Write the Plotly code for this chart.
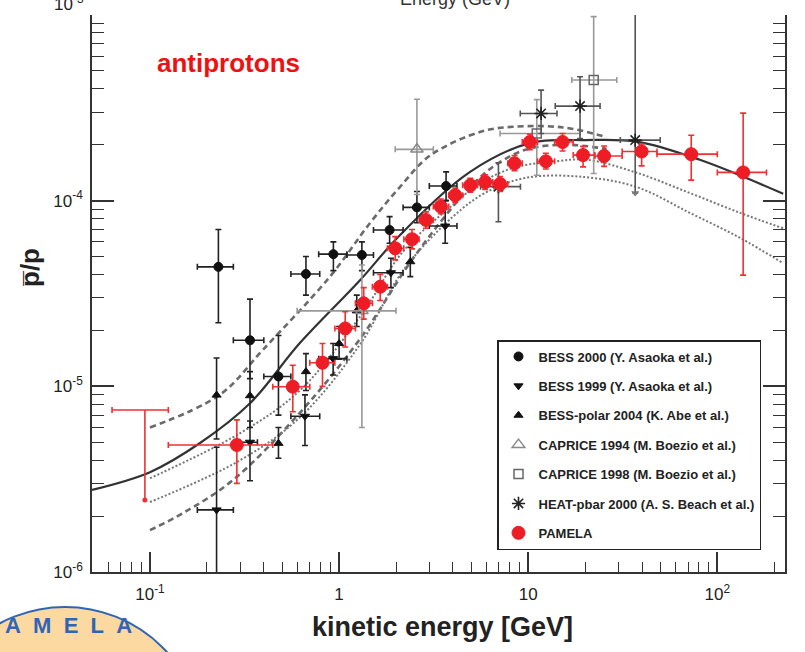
import plotly.graph_objects as go

# ---------------- data ----------------
# model curves (kinetic energy GeV, pbar/p)
solid_E = [0.0494, 0.1, 0.184, 0.338, 0.62, 1.29, 2.09, 4.93, 10.2, 20, 37.5, 80.8, 223]
solid_y = [2.77e-6, 3.45e-6, 4.95e-6, 8.1e-6, 1.71e-5, 3.73e-5, 6.5e-5, 1.43e-4, 2.04e-4, 2.12e-4, 2.08e-4, 1.66e-4, 1.09e-4]

dash_hi_E = [0.1, 0.234, 0.395, 0.895, 1.46, 2.09, 3.03, 5.6, 8.3, 15.3, 26]
dash_hi_y = [6.0e-6, 9.0e-6, 1.57e-5, 3.9e-5, 7.6e-5, 1.18e-4, 1.75e-4, 2.35e-4, 2.5e-4, 2.48e-4, 2.2e-4]

dash_lo_E = [0.1, 0.15, 0.275, 0.62, 1.29, 2.5, 5.0, 7.0, 10, 16, 26]
dash_lo_y = [1.68e-6, 2.08e-6, 3.13e-6, 7.2e-6, 1.8e-5, 5.0e-5, 1.2e-4, 1.6e-4, 1.9e-4, 2.0e-4, 1.9e-4]

dot_hi_E = [0.1, 0.3, 0.62, 1.3, 2.2, 4.0, 5.57, 8.3, 14, 20.5, 37.8, 71.5, 132, 223]
dot_hi_y = [3.2e-6, 5.6e-6, 9.5e-6, 2.4e-5, 5.4e-5, 9.5e-5, 1.24e-4, 1.5e-4, 1.63e-4, 1.66e-4, 1.41e-4, 1.1e-4, 8.6e-5, 7.1e-5]

dot_lo_E = [0.1, 0.3, 0.62, 1.3, 2.18, 4.0, 6.0, 9.8, 20, 37.8, 71.5, 132, 223]
dot_lo_y = [2.38e-6, 4.0e-6, 6.8e-6, 1.7e-5, 4.2e-5, 8.2e-5, 1.11e-4, 1.33e-4, 1.34e-4, 1.18e-4, 8.6e-5, 6.3e-5, 4.6e-5]

# BESS 2000
b00_E = [0.23, 0.338, 0.478, 0.668, 0.933, 1.32, 1.85, 2.58, 3.68]
b00_y = [4.4e-5, 1.77e-5, 1.13e-5, 4.03e-5, 5.15e-5, 5.1e-5, 6.95e-5, 9.2e-5, 1.2e-4]
b00_ylo = [2.2e-5, 1.1e-5, 7.0e-6, 3.1e-5, 4.2e-5, 4.2e-5, 5.9e-5, 7.6e-5, 1.0e-4]
b00_yhi = [7.0e-5, 2.95e-5, 1.88e-5, 5.0e-5, 6.0e-5, 6.0e-5, 8.2e-5, 1.12e-4, 1.43e-4]
b00_xlo = [0.178, 0.276, 0.40, 0.556, 0.78, 1.1, 1.52, 2.18, 3.0]
b00_xhi = [0.276, 0.40, 0.556, 0.79, 1.1, 1.52, 2.18, 3.0, 4.2]

# BESS 1999
b99_E = [0.225, 0.338, 0.66, 0.93, 1.88, 3.64]
b99_y = [2.16e-6, 5.0e-6, 6.9e-6, 1.41e-5, 4.09e-5, 7.3e-5]
b99_ylo = [5e-7, 3.1e-6, 4.8e-6, 1.15e-5, 3.4e-5, 5.9e-5]
b99_yhi = [4.7e-6, 6.5e-6, 9.0e-6, 1.7e-5, 4.9e-5, 1.0e-4]
b99_xlo = [0.178, 0.30, 0.556, 0.78, 1.52, 3.0]
b99_xhi = [0.276, 0.37, 0.79, 1.1, 2.18, 4.2]

# BESS-polar 2004
bp_E = [0.225, 0.338, 0.478, 0.668, 1.0, 1.24, 2.38]
bp_y = [8.97e-6, 8.9e-6, 4.93e-6, 1.2e-5, 1.7e-5, 2.55e-5, 4.69e-5]
bp_ylo = [5.2e-6, 6.0e-6, 4.1e-6, 9.5e-6, 1.4e-5, 2.1e-5, 3.9e-5]
bp_yhi = [1.42e-5, 1.2e-5, 6.0e-6, 1.5e-5, 2.1e-5, 3.1e-5, 5.6e-5]

# CAPRICE 1994
c94_E = [1.32, 2.58]
c94_y = [2.55e-5, 1.89e-4]
c94_ylo = [6.0e-6, 1.08e-4]
c94_yhi = [4.5e-5, 3.52e-4]
c94_xlo = [0.6, 1.98]
c94_xhi = [2.0, 3.15]

# CAPRICE 1998
c98_E = [11.1, 22.2]
c98_y = [2.3e-4, 4.47e-4]
c98_ylo = [1.37e-4, 1.4e-4]
c98_yhi = [3.5e-4, 9.8e-4]
c98_xlo = [7.1, 17.0]
c98_xhi = [18.8, 29.4]

# HEAT-pbar 2000
heat_E = [6.96, 11.7, 18.8, 36.8]
heat_y = [1.19e-4, 2.95e-4, 3.23e-4, 2.12e-4]
heat_ylo = [7.7e-5, 2.3e-4, 2.16e-4, 1.1e-4]
heat_yhi = [1.6e-4, 3.94e-4, 4.65e-4, 2.0e-3]
heat_xlo = [5.6, 9.08, 13.9, 30.7]
heat_xhi = [9.1, 14.2, 24.0, 49.9]

# PAMELA
pam_E = [0.288, 0.569, 0.817, 1.077, 1.35, 1.65, 1.98, 2.43, 2.88, 3.45, 4.11, 4.94,
         5.92, 7.1, 8.47, 10.2, 12.4, 15.2, 19.5, 25.2, 39.8, 72.8, 137]
pam_y = [4.83e-6, 9.95e-6, 1.34e-5, 2.05e-5, 2.8e-5, 3.44e-5, 5.54e-5, 6.2e-5, 7.87e-5,
         9.3e-5, 1.07e-4, 1.21e-4, 1.26e-4, 1.23e-4, 1.59e-4, 2.07e-4, 1.63e-4, 2.07e-4,
         1.76e-4, 1.74e-4, 1.84e-4, 1.78e-4, 1.42e-4]
pam_ylo = [3.0e-6, 7.3e-6, 1.0e-5, 1.63e-5, 2.3e-5, 2.9e-5, 4.8e-5, 5.5e-5, 7.1e-5, 8.5e-5,
           9.8e-5, 1.11e-4, 1.15e-4, 1.12e-4, 1.45e-4, 1.88e-4, 1.48e-4, 1.85e-4, 1.52e-4,
           1.53e-4, 1.54e-4, 1.29e-4, 3.97e-5]
pam_yhi = [6.6e-6, 1.30e-5, 1.7e-5, 2.52e-5, 3.4e-5, 4.0e-5, 6.4e-5, 7.0e-5, 8.7e-5, 1.02e-4,
           1.17e-4, 1.32e-4, 1.38e-4, 1.35e-4, 1.75e-4, 2.28e-4, 1.8e-4, 2.3e-4, 1.96e-4,
           1.97e-4, 2.02e-4, 2.25e-4, 2.96e-4]
pam_xlo = [0.125, 0.446, 0.70, 0.95, 1.22, 1.5, 1.8, 2.2, 2.65, 3.15, 3.8, 4.5, 5.4, 6.5,
           7.8, 9.3, 11.2, 13.8, 17.3, 22.5, 31.4, 48, 100]
pam_xhi = [0.446, 0.70, 0.95, 1.22, 1.5, 1.8, 2.2, 2.65, 3.15, 3.8, 4.5, 5.4, 6.5, 7.8,
           9.3, 11.2, 13.8, 17.3, 22.5, 31.4, 48, 100, 182]

# PAMELA lowest-energy bin (upper limit style)
pul_E = [0.094]
pul_y = [7.45e-6]
pul_ylo = [2.44e-6]
pul_xlo = [0.063]
pul_xhi = [0.125]

x_tickvals = [0.1, 1, 10, 100]
x_ticktext = ["10<sup>-1</sup>", "1", "10", "10<sup>2</sup>"]
y_tickvals = [1e-6, 1e-5, 1e-4, 1e-3]
y_ticktext = ["10<sup>-6</sup>", "10<sup>-5</sup>", "10<sup>-4</sup>", ""]
y_top_label = "10<sup>-3</sup>"

legend_names = ["BESS 2000 (Y. Asaoka et al.)", "BESS 1999 (Y. Asaoka et al.)",
                "BESS-polar 2004 (K. Abe et al.)", "CAPRICE 1994 (M. Boezio et al.)",
                "CAPRICE 1998 (M. Boezio et al.)", "HEAT-pbar 2000 (A. S. Beach et al.)",
                "PAMELA"]

# ---------------- figure ----------------
W, H = 805, 652
ML, MR, MT, MB = 92, 20, 15, 80


def px2paper(px, py):
    return (px - ML) / (W - ML - MR), (H - MB - py) / (H - MT - MB)


def diffs(v, lo, hi):
    return [h - a for a, h in zip(v, hi)], [a - l for a, l in zip(v, lo)]


fig = go.Figure()

# model curves
fig.add_trace(go.Scatter(x=dash_hi_E, y=dash_hi_y, mode="lines", line_shape="spline",
                         line=dict(color="#6a6a6a", width=2.6, dash="6px,4px"), showlegend=False))
fig.add_trace(go.Scatter(x=dash_lo_E, y=dash_lo_y, mode="lines", line_shape="spline",
                         line=dict(color="#6a6a6a", width=2.6, dash="6px,4px"), showlegend=False))
fig.add_trace(go.Scatter(x=dot_hi_E, y=dot_hi_y, mode="lines", line_shape="spline",
                         line=dict(color="#777777", width=2, dash="2px,2px"), showlegend=False))
fig.add_trace(go.Scatter(x=dot_lo_E, y=dot_lo_y, mode="lines", line_shape="spline",
                         line=dict(color="#777777", width=2, dash="2px,2px"), showlegend=False))
fig.add_trace(go.Scatter(x=solid_E, y=solid_y, mode="lines", line_shape="spline",
                         line=dict(color="#333333", width=2.2), showlegend=False))


def add_data(E, y, ylo, yhi, xlo, xhi, name, symbol, color, size, ecolor, lw=1.0):
    ep, em = diffs(y, ylo, yhi)
    err_x = dict(visible=False)
    if xlo is not None:
        xp, xm = diffs(E, xlo, xhi)
        err_x = dict(type="data", symmetric=False, array=xp, arrayminus=xm,
                     color=ecolor, thickness=1.6, width=3)
    fig.add_trace(go.Scatter(
        x=E, y=y, mode="markers", name=name, legendgroup=name,
        marker=dict(symbol=symbol, color=color, size=size, line=dict(color=color, width=lw)),
        error_y=dict(type="data", symmetric=False, array=ep, arrayminus=em,
                     color=ecolor, thickness=1.6, width=3),
        error_x=err_x))


add_data(b00_E, b00_y, b00_ylo, b00_yhi, b00_xlo, b00_xhi, legend_names[0],
         "circle", "#111111", 9, "#222222")
add_data(b99_E, b99_y, b99_ylo, b99_yhi, b99_xlo, b99_xhi, legend_names[1],
         "triangle-down", "#111111", 8, "#222222")
add_data(bp_E, bp_y, bp_ylo, bp_yhi, None, None, legend_names[2],
         "triangle-up", "#111111", 8, "#222222")
add_data(c94_E, c94_y, c94_ylo, c94_yhi, c94_xlo, c94_xhi, legend_names[3],
         "triangle-up-open", "#888888", 11, "#999999", 1.5)
add_data(c98_E, c98_y, c98_ylo, c98_yhi, c98_xlo, c98_xhi, legend_names[4],
         "square-open", "#666666", 9, "#999999", 1.5)
add_data(heat_E, heat_y, heat_ylo, heat_yhi, heat_xlo, heat_xhi, legend_names[5],
         "asterisk-open", "#222222", 11, "#555555", 1.6)

# HEAT arrow tip at end of error bar
fig.add_trace(go.Scatter(x=[heat_E[3]], y=[heat_ylo[3]], mode="markers", showlegend=False,
                         marker=dict(symbol="triangle-down", size=7, color="#777777")))

# PAMELA upper-limit style bin
pul_xp, pul_xm = diffs(pul_E, pul_xlo, pul_xhi)
fig.add_trace(go.Scatter(
    x=pul_E, y=pul_y, mode="markers", showlegend=False,
    marker=dict(size=1, color="rgba(0,0,0,0)"),
    error_y=dict(type="data", symmetric=False, array=[0],
                 arrayminus=[pul_y[0] - pul_ylo[0]], color="#f03030", thickness=1.6, width=0),
    error_x=dict(type="data", symmetric=False, array=pul_xp, arrayminus=pul_xm,
                 color="#f03030", thickness=1.6, width=3)))
fig.add_trace(go.Scatter(x=pul_E, y=pul_ylo, mode="markers", showlegend=False,
                         marker=dict(symbol="circle", size=5, color="#f03030")))

add_data(pam_E, pam_y, pam_ylo, pam_yhi, pam_xlo, pam_xhi, legend_names[6],
         "circle", "#ee1c24", 13, "#f03030")

fig.update_xaxes(
    type="log", range=[-1.3066, 2.358], showgrid=False, zeroline=False,
    showline=True, linecolor="#333333", linewidth=1.5, mirror=False,
    ticks="inside", ticklen=20, tickwidth=1.5, tickcolor="#333333",
    tickvals=x_tickvals, ticktext=x_ticktext, ticklabelstandoff=6,
    tickfont=dict(family="Arial, Liberation Sans", size=17, color="#222222"),
    minor=dict(ticks="inside", ticklen=10, tickwidth=1.3, tickcolor="#333333",
               tickvals=[0.06, 0.07, 0.08, 0.09, 0.2, 0.3, 0.4, 0.5, 0.6, 0.7, 0.8, 0.9,
                         2, 3, 4, 5, 6, 7, 8, 9, 20, 30, 40, 50, 60, 70, 80, 90, 200]))
fig.update_yaxes(
    type="log", range=[-6, -3], showgrid=False, zeroline=False,
    showline=True, linecolor="#333333", linewidth=1.5, mirror="ticks",
    ticks="inside", ticklen=22, tickwidth=1.5, tickcolor="#333333",
    tickvals=y_tickvals, ticktext=y_ticktext, ticklabelstandoff=4,
    tickfont=dict(family="Arial, Liberation Sans", size=17, color="#222222"),
    minor=dict(ticks="inside", ticklen=12, tickwidth=1.3, tickcolor="#333333",
               tickvals=[m * 10.0 ** e for e in (-6, -5, -4) for m in range(2, 10)]))

lx, ly = px2paper(497, 340)
fig.update_layout(
    width=W, height=H, margin=dict(l=ML, r=MR, t=MT, b=MB),
    paper_bgcolor="white", plot_bgcolor="white",
    font=dict(family="Arial, Liberation Sans"),
    legend=dict(x=lx, y=ly, xanchor="left", yanchor="top", bgcolor="white",
                bordercolor="#222222", borderwidth=1.5, tracegroupgap=9.5,
                font=dict(family="Arial, Liberation Sans", size=13, color="#222222", weight="bold")),
)

# logo circle (bottom-left, partially outside)
cx0, cy0 = px2paper(65 - 138, 745 + 138)
cx1, cy1 = px2paper(65 + 138, 745 - 138)
fig.add_shape(type="circle", xref="paper", yref="paper", x0=cx0, y0=cy0, x1=cx1, y1=cy1,
              fillcolor="#fdd9a2", line=dict(color="#2f66b3", width=2), layer="below")

annots = [
    dict(text="antiprotons", px=228, py=63, size=26, color="#ee1111", weight="bold", anchor="center"),
    dict(text="Energy (GeV)", px=455, py=-1, size=18, color="#333333", weight="normal", anchor="center"),
    dict(text="kinetic energy [GeV]", px=442, py=627, size=27, color="#222222", weight="bold", anchor="center"),
    dict(text="A\u00a0\u00a0M\u00a0\u00a0E\u00a0\u00a0L\u00a0\u00a0A", px=68, py=625, size=22,
         color="#2f66b3", weight="bold", anchor="center"),
    dict(text=y_top_label, px=86, py=3, size=17, color="#222222", weight="normal", anchor="right"),
]
for a in annots:
    ax_, ay_ = px2paper(a["px"], a["py"])
    fig.add_annotation(text=a["text"], x=ax_, y=ay_, xref="paper", yref="paper",
                       showarrow=False, xanchor=a["anchor"], yanchor="middle",
                       font=dict(family="Arial, Liberation Sans", size=a["size"],
                                 color=a["color"], weight=a["weight"]))

tx, ty = px2paper(30, 268)
fig.add_annotation(text="p\u0305/p", x=tx, y=ty, xref="paper", yref="paper", showarrow=False,
                   textangle=-90, xanchor="center", yanchor="middle",
                   font=dict(family="Arial, Liberation Sans", size=26, color="#222222", weight="bold"))

fig.write_html("out.html")
